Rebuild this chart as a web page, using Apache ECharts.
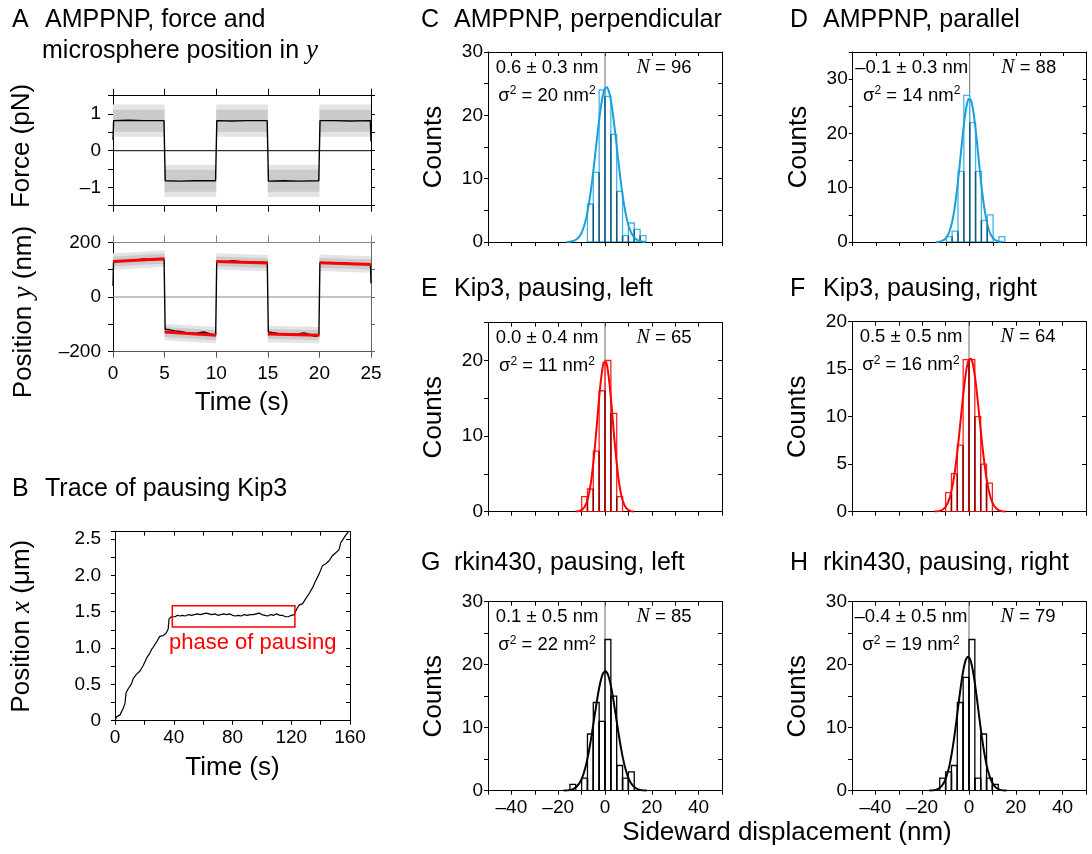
<!DOCTYPE html>
<html>
<head>
<meta charset="utf-8">
<script src="https://cdn.jsdelivr.net/npm/echarts@6/dist/echarts.min.js"></script>
<style>
  html, body { margin: 0; padding: 0; background: #fff; }
  #chart { width: 1092px; height: 854px; }
</style>
</head>
<body>
<div id="chart"></div>
<script>
// ---------- Panel A: force clamp switching the microsphere between +y and -y ----------
const phaseEdges = [0, 5, 10, 15, 20, 25];                 // s
const forceLevel = [0.82, -0.82, 0.82, -0.82, 0.82];       // pN, per phase
const forceSpread = [0.30, 0.44];                          // dense noise, spike envelope (pN)
const forceTrace = [[0, 0.30], [0.06, 0.82], [1.5, 0.83], [3, 0.82], [4.94, 0.82],
  [5.06, -0.82], [6.5, -0.83], [8, -0.82], [9.94, -0.82],
  [10.06, 0.82], [11.5, 0.81], [13, 0.82], [14.94, 0.82],
  [15.06, -0.83], [16.5, -0.82], [18, -0.83], [19.94, -0.82],
  [20.06, 0.82], [21.5, 0.82], [23, 0.81], [24.94, 0.82], [25, 0.25]];
const posFitStart = [130, -128, 130, -135, 125];           // nm, linear fit at phase start
const posFitEnd = [140, -140, 124, -140, 119];             // nm, linear fit at phase end
const posSpread = [18, 30];                                // dense noise, spike envelope (nm)
const posTrace = [[0, 40], [0.05, 128], [1, 132], [2, 134], [3, 139], [3.5, 136], [4, 136], [4.95, 138],
  [5.05, -118], [5.5, -120], [6, -124], [6.5, -126], [7, -130], [8, -133], [8.8, -128], [9.5, -136], [9.95, -139],
  [10.05, 128], [11, 129], [11.6, 133], [12.5, 128], [13.5, 127], [14.5, 127], [14.95, 126],
  [15.05, -128], [16, -133], [17, -136], [18, -135], [18.5, -131], [19, -137], [19.6, -144], [19.95, -139],
  [20.05, 124], [21, 124], [22, 125], [23, 122], [24, 121], [24.95, 120], [25, 50]];

// ---------- Panel B: Kip3 trace with a pause ----------
const kipTime = [0, 1.1, 2.3, 3.4, 5.6, 6.8, 7.5, 9.0, 11.3, 12.4, 14.7, 16.9, 19.2, 21.5, 23.7, 24.9, 26, 28.2,
  30.5, 32.8, 35, 36.2, 36.8, 38.4, 39.5, 41, 42.5, 44, 46, 48, 50, 52, 54, 56, 58, 60, 62, 64, 66, 68, 70, 72,
  74, 76, 78, 80, 82, 84, 86, 88, 90, 92, 94, 96, 98, 100, 102, 104, 106, 108, 110, 112, 114, 116, 118, 120,
  122, 123.2, 124.3, 125.4, 127.7, 129.9, 132.2, 134.5, 136.7, 139, 141.2, 143.5, 145.8, 148, 150.3, 152.5,
  153.7, 154.8, 157, 158.9];
const kipPos = [0, 0.055, 0.05, 0.08, 0.17, 0.24, 0.38, 0.44, 0.51, 0.58, 0.64, 0.68, 0.76, 0.86, 0.93, 0.98, 1.01, 1.08,
  1.16, 1.17, 1.21, 1.26, 1.40, 1.43, 1.44, 1.43, 1.45, 1.44, 1.45, 1.44, 1.46, 1.45, 1.46, 1.47, 1.46, 1.47, 1.48,
  1.47, 1.46, 1.47, 1.45, 1.46, 1.47, 1.46, 1.47, 1.45, 1.44, 1.45, 1.44, 1.46, 1.45, 1.46, 1.46, 1.47, 1.48, 1.46,
  1.45, 1.44, 1.46, 1.45, 1.47, 1.45, 1.45, 1.43, 1.43, 1.45, 1.46, 1.47, 1.56, 1.59, 1.61, 1.68, 1.75, 1.83, 1.93,
  2.02, 2.13, 2.16, 2.20, 2.27, 2.31, 2.35, 2.45, 2.48, 2.55, 2.60];
const pauseWindow = [39.0, 122.5];   // s
const pauseRange = [1.29, 1.58];     // µm

// ---------- Panels C-H: sideward displacement histograms ----------
const binWidth = 2.5;  // nm
const countsC = [6, 11, 24, 23, 17, 8, 1, 3, 2, 1];
const countsD = [1, 2, 13, 27, 22, 13, 4, 5, 0, 1];
const countsE = [2, 3, 8, 16, 20, 13, 2];
const countsF = [2, 4, 7, 16, 16, 10, 5, 3];
const countsG = [1, 0, 2, 9, 14, 11, 24, 15, 4, 2, 3];
const countsH = [2, 3, 4, 14, 18, 24, 2, 9, 2, 1];
const firstBin = [-7.5, -10, -10, -10, -15, -12.5];      // left edge of first bin, nm
const fitMean = [0.6, -0.1, 0.0, 0.5, 0.1, -0.4];         // nm
const fitErr = [0.3, 0.3, 0.4, 0.5, 0.5, 0.5];            // nm
const fitVariance = [20, 14, 11, 16, 22, 19];             // nm^2
const fitPeak = [24.5, 26.5, 20.0, 16.2, 19.0, 21.3];     // counts
const eventCount = [96, 88, 65, 64, 85, 79];
const countsMax = [30, 35, 25, 20, 30, 30];
const countsLabelStep = [10, 10, 10, 5, 10, 10];
const displacementTicks = [-40, -20, 0, 20, 40];
const histLetters = ['C', 'D', 'E', 'F', 'G', 'H'];
const histTitles = ['AMPPNP, perpendicular', 'AMPPNP, parallel', 'Kip3, pausing, left',
  'Kip3, pausing, right', 'rkin430, pausing, left', 'rkin430, pausing, right'];

// ---------- helpers ----------
const FONT = "'Liberation Sans', Arial, Helvetica, sans-serif";
const SERIF = "'Liberation Serif', 'Times New Roman', serif";
const TITLE_SIZE = 25;
const dash = v => (v < 0 ? '\u2013' + String(Math.abs(v)) : String(v));
const onStep = (v, step) => Math.abs(v / step - Math.round(v / step)) < 1e-6;

const grids = [], xAxes = [], yAxes = [], series = [], graphics = [];

function makeAxis(gi, pos, s, main) {
  const out = main ? s.out : s.mirrorOut;
  const col = main ? (s.color || '#000') : (s.mirrorColor || s.color || '#000');
  return {
    type: 'value', gridIndex: gi, position: pos,
    min: s.min, max: s.max, interval: s.interval,
    axisLine: { show: true, onZero: false, lineStyle: { color: col, width: 1 } },
    axisTick: { show: true, inside: !out, length: main ? s.tick : s.mirrorTick, lineStyle: { color: col, width: 1 } },
    axisLabel: { show: main && !!s.fmt, formatter: s.fmt, margin: s.margin || 8,
      fontSize: 19, fontFamily: FONT, color: '#000' },
    splitLine: { show: false },
    name: main && s.name ? s.name : '', nameLocation: 'middle', nameGap: s.nameGap || 30,
    nameTextStyle: { fontSize: 26, fontFamily: FONT, color: '#000',
      rich: { t: { fontSize: 26, fontFamily: FONT, color: '#000' },
              i: { fontSize: 27, fontFamily: SERIF, fontStyle: 'italic', color: '#000' } } }
  };
}

function panel(box, xs, ys) {
  const gi = grids.length;
  grids.push({ left: box[0], top: box[1], width: box[2], height: box[3] });
  const xi = xAxes.length, yi = yAxes.length;
  xAxes.push(makeAxis(gi, 'bottom', xs, true));
  xAxes.push(makeAxis(gi, 'top', xs, false));
  yAxes.push(makeAxis(gi, 'left', ys, true));
  yAxes.push(makeAxis(gi, 'right', ys, false));
  return { xi, yi };
}

function bandSeries(ax, items, color) {
  return {
    type: 'custom', xAxisIndex: ax.xi, yAxisIndex: ax.yi, silent: true, clip: true, z: 1,
    data: items, encode: { x: [0, 1], y: [2, 3, 4, 5] },
    renderItem: (p, api) => ({
      type: 'polygon',
      shape: { points: [api.coord([api.value(0), api.value(2)]), api.coord([api.value(1), api.value(3)]),
                        api.coord([api.value(1), api.value(5)]), api.coord([api.value(0), api.value(4)])] },
      style: { fill: color }
    })
  };
}

function lineSeries(ax, data, color, width, z) {
  return { type: 'line', xAxisIndex: ax.xi, yAxisIndex: ax.yi, data, showSymbol: false, symbol: 'none',
    silent: true, z: z || 3, lineStyle: { color, width }, clip: true };
}

function title(x, y, letter, text, size) {
  graphics.push({ type: 'text', x: x, y: y, silent: true,
    style: { text: letter, fontSize: size, fontFamily: FONT, fill: '#000', align: 'left', verticalAlign: 'middle' } });
  graphics.push({ type: 'text', x: x + 33, y: y, silent: true,
    style: { text: text, fontSize: size, fontFamily: FONT, fill: '#000', align: 'left', verticalAlign: 'middle' } });
}

function sideName(x, y, text, size) {
  graphics.push({ type: 'text', x: x, y: y, rotation: Math.PI / 2, silent: true,
    style: { text: text, fontSize: size, fontFamily: FONT, fill: '#000', align: 'center', verticalAlign: 'middle',
      rich: { t: { fontSize: size, fontFamily: FONT, fill: '#000' },
              i: { fontSize: size + 1, fontFamily: SERIF, fontStyle: 'italic', fill: '#000' } } } });
}

// ---------- Panel A (top): force ----------
const tMin = phaseEdges[0], tMax = phaseEdges[phaseEdges.length - 1];
const aTop = panel([113, 95.7, 258, 110],
  { min: tMin, max: tMax, interval: 5, out: true, tick: 6, mirrorOut: true, mirrorTick: 7 },
  { min: -1.5, max: 1.5, interval: 0.5, out: true, tick: 5, mirrorOut: true, mirrorTick: 4, margin: 12,
    fmt: v => (onStep(v, 1) ? dash(Math.round(v)) : '') });
forceSpread.slice().reverse().forEach((h, k) => {
  const items = forceLevel.map((c, i) => [phaseEdges[i], phaseEdges[i + 1], c - h, c - h, c + h, c + h]);
  series.push(bandSeries(aTop, items, k === 0 ? '#e4e4e4' : '#cbcbcb'));
});
series.push(lineSeries(aTop, [[tMin, 0], [tMax, 0]], '#000', 1, 2));
series.push(lineSeries(aTop, forceTrace, '#000', 1.4, 4));
sideName(22, 146, 'Force (pN)', 26);

// ---------- Panel A (bottom): microsphere position in y ----------
const aBot = panel([113, 242.3, 258, 109.4],
  { min: tMin, max: tMax, interval: 5, out: true, tick: 6, mirrorOut: true, mirrorTick: 7, margin: 13,
    fmt: v => String(v), name: 'Time (s)', nameGap: 38, color: '#555', mirrorColor: '#888' },
  { min: -200, max: 200, interval: 100, out: true, tick: 5, mirrorOut: true, mirrorTick: 4, margin: 12,
    fmt: v => (onStep(v, 200) ? dash(v) : ''), color: '#000', mirrorColor: '#666' });
posSpread.slice().reverse().forEach((h, k) => {
  const items = posFitStart.map((c, i) => [phaseEdges[i], phaseEdges[i + 1], c - h, posFitEnd[i] - h, c + h, posFitEnd[i] + h]);
  series.push(bandSeries(aBot, items, k === 0 ? '#e4e4e4' : '#cbcbcb'));
});
series.push(lineSeries(aBot, [[tMin, 0], [tMax, 0]], '#888', 1, 2));
series.push(lineSeries(aBot, posTrace, '#000', 1.4, 4));
posFitStart.forEach((c, i) => {
  series.push(lineSeries(aBot, [[phaseEdges[i], c], [phaseEdges[i + 1], posFitEnd[i]]], '#ff0000', 3, 5));
});
sideName(24, 312, '{t|Position }{i|y}{t| (nm)}', 26);

// ---------- Panel B: trace of pausing Kip3 ----------
const bAx = panel([115, 531.7, 235, 189],
  { min: 0, max: 160, interval: 20, out: true, tick: 4, mirrorOut: false, mirrorTick: 4, margin: 8,
    fmt: v => (onStep(v, 40) ? String(v) : ''), name: 'Time (s)', nameGap: 34 },
  { min: 0, max: 2.6, interval: 0.25, out: true, tick: 4, mirrorOut: false, mirrorTick: 4, margin: 14,
    fmt: v => (onStep(v, 0.5) && v <= 2.5 + 1e-9 ? (Math.abs(v) < 1e-9 ? '0' : v.toFixed(1)) : ''),
    name: '{t|Position }{i|x}{t| (\u03bcm)}', nameGap: 80 });
series.push(lineSeries(bAx, kipTime.map((t, i) => [t, kipPos[i]]), '#000', 1.2, 4));
series.push({
  type: 'custom', xAxisIndex: bAx.xi, yAxisIndex: bAx.yi, silent: true, z: 5,
  data: [[pauseWindow[0], pauseWindow[1], pauseRange[0], pauseRange[1]]],
  encode: { x: [0, 1], y: [2, 3] },
  renderItem: (p, api) => {
    const a = api.coord([api.value(0), api.value(3)]);
    const b = api.coord([api.value(1), api.value(2)]);
    return { type: 'rect', shape: { x: a[0], y: a[1], width: b[0] - a[0], height: b[1] - a[1] },
      style: { fill: 'none', stroke: '#ff0000', lineWidth: 1.5 } };
  }
});
graphics.push({ type: 'text', x: 169, y: 643, silent: true,
  style: { text: 'phase of pausing', fontSize: 22, fontFamily: FONT, fill: '#ff0000', align: 'left', verticalAlign: 'middle' } });

// ---------- Panels C-H ----------
const histCounts = [countsC, countsD, countsE, countsF, countsG, countsH];
const histBoxes = [[488, 52, 234, 190], [852.7, 52, 234, 190],
                   [488, 322.7, 234, 189], [852, 321.7, 234, 190],
                   [488, 601.7, 234, 189], [852, 601.7, 234, 189]];
const palette = [
  { bar: '#3db6ec', curve: '#1a9fdc', shared: '#1b5675' },
  { bar: '#3db6ec', curve: '#1a9fdc', shared: '#1b5675' },
  { bar: '#ff1f1f', curve: '#ff0000', shared: '#8a0000' },
  { bar: '#ff1f1f', curve: '#ff0000', shared: '#8a0000' },
  { bar: '#000000', curve: '#000000', shared: '#000000' },
  { bar: '#000000', curve: '#000000', shared: '#000000' }];

histCounts.forEach((counts, h) => {
  const box = histBoxes[h];
  const bottomRow = h >= 4;
  const step = countsLabelStep[h];
  const ax = panel(box,
    { min: -50, max: 50, interval: 10, out: true, tick: 4, mirrorOut: false, mirrorTick: 4, margin: 8,
      fmt: bottomRow ? (v => (displacementTicks.indexOf(v) >= 0 ? dash(v) : '')) : null },
    { min: 0, max: countsMax[h], interval: 5, out: true, tick: 4, mirrorOut: false, mirrorTick: 4, margin: 5,
      fmt: v => (onStep(v, step) ? String(v) : ''), name: 'Counts', nameGap: 41 });
  const col = palette[h];
  // zero reference line
  series.push(lineSeries(ax, [[0, 0], [0, countsMax[h]]], '#6e6e6e', 1, 1));
  // histogram bars (outlines)
  const bars = counts.map((c, i) => [firstBin[h] + i * binWidth, firstBin[h] + (i + 1) * binWidth, c])
    .filter(d => d[2] > 0);
  series.push({
    type: 'custom', xAxisIndex: ax.xi, yAxisIndex: ax.yi, silent: true, z: 2, clip: true,
    data: bars, encode: { x: [0, 1], y: 2 },
    renderItem: (p, api) => {
      const a = api.coord([api.value(0), api.value(2)]);
      const b = api.coord([api.value(1), 0]);
      return { type: 'rect', shape: { x: a[0], y: a[1], width: b[0] - a[0], height: b[1] - a[1] },
        style: { fill: 'none', stroke: col.bar, lineWidth: 1.3 } };
    }
  });
  // edges shared by two neighbouring bars
  const shared = [];
  for (let i = 1; i < counts.length; i++) {
    const m = Math.min(counts[i - 1], counts[i]);
    if (m > 0) shared.push([firstBin[h] + i * binWidth, m]);
  }
  series.push({
    type: 'custom', xAxisIndex: ax.xi, yAxisIndex: ax.yi, silent: true, z: 3, clip: true,
    data: shared, encode: { x: 0, y: 1 },
    renderItem: (p, api) => {
      const a = api.coord([api.value(0), 0]);
      const b = api.coord([api.value(0), api.value(1)]);
      return { type: 'line', shape: { x1: a[0], y1: a[1], x2: b[0], y2: b[1] },
        style: { stroke: col.shared, lineWidth: 1.4 } };
    }
  });
  // Gaussian fit: mean and variance as stated, peak height from the fit
  const mu = fitMean[h], v2 = fitVariance[h], sd = Math.sqrt(v2);
  const curve = [];
  for (let k = -76; k <= 76; k++) {
    const x = mu + (k / 20) * sd;
    curve.push([x, fitPeak[h] * Math.exp(-((x - mu) * (x - mu)) / (2 * v2))]);
  }
  series.push(lineSeries(ax, curve, col.curve, 2, 4));

  // annotations
  const meanTxt = dash(Number(fitMean[h].toFixed(1))).replace(/^(\u2013?)(\d+)$/, '$1$2.0');
  const cx = box[0] + 59;
  graphics.push({ type: 'text', x: cx, y: box[1] + 15.5, silent: true, z: 10,
    style: { text: meanTxt + ' \u00b1 ' + fitErr[h].toFixed(1) + ' nm',
      fontSize: 18.5, fontFamily: FONT, fill: '#000', align: 'center', verticalAlign: 'middle' } });
  graphics.push({ type: 'text', x: cx, y: box[1] + 43.5, silent: true, z: 10,
    style: { text: '\u03c3{s|2} = ' + fitVariance[h] + ' nm{s|2}',
      fontSize: 18.5, fontFamily: FONT, fill: '#000', align: 'center', verticalAlign: 'middle',
      rich: { s: { fontSize: 12, fontFamily: FONT, fill: '#000', verticalAlign: 'top', padding: [0, 0, 9, 0] } } } });
  graphics.push({ type: 'text', x: box[0] + 176, y: box[1] + 15.5, silent: true, z: 10,
    style: { text: '{i|N} = ' + eventCount[h], fontSize: 18.5, fontFamily: FONT, fill: '#000',
      align: 'center', verticalAlign: 'middle',
      rich: { i: { fontSize: 20, fontFamily: SERIF, fontStyle: 'italic', fill: '#000' } } } });

  const colX = h % 2 === 0 ? 421 : 790;
  const rowY = [20, 289, 563][Math.floor(h / 2)];
  title(colX, rowY, histLetters[h], histTitles[h], TITLE_SIZE);
});

// panel titles A and B
title(12, 20, 'A', 'AMPPNP, force and', TITLE_SIZE);
graphics.push({ type: 'text', x: 42, y: 51, silent: true,
  style: { text: 'microsphere position in {i|y}', fontSize: TITLE_SIZE, fontFamily: FONT, fill: '#000',
    align: 'left', verticalAlign: 'middle',
    rich: { i: { fontSize: TITLE_SIZE + 2, fontFamily: SERIF, fontStyle: 'italic', fill: '#000' } } } });
title(12, 489, 'B', 'Trace of pausing Kip3', TITLE_SIZE);

// shared x-axis title for the histogram columns
graphics.push({ type: 'text', x: 787, y: 833, silent: true,
  style: { text: 'Sideward displacement (nm)', fontSize: 26, fontFamily: FONT, fill: '#000',
    align: 'center', verticalAlign: 'middle' } });

const chart = echarts.init(document.getElementById('chart'), null, { renderer: 'canvas' });
chart.setOption({
  animation: false,
  backgroundColor: '#ffffff',
  grid: grids,
  xAxis: xAxes,
  yAxis: yAxes,
  series: series,
  graphic: graphics
});
</script>
</body>
</html>
